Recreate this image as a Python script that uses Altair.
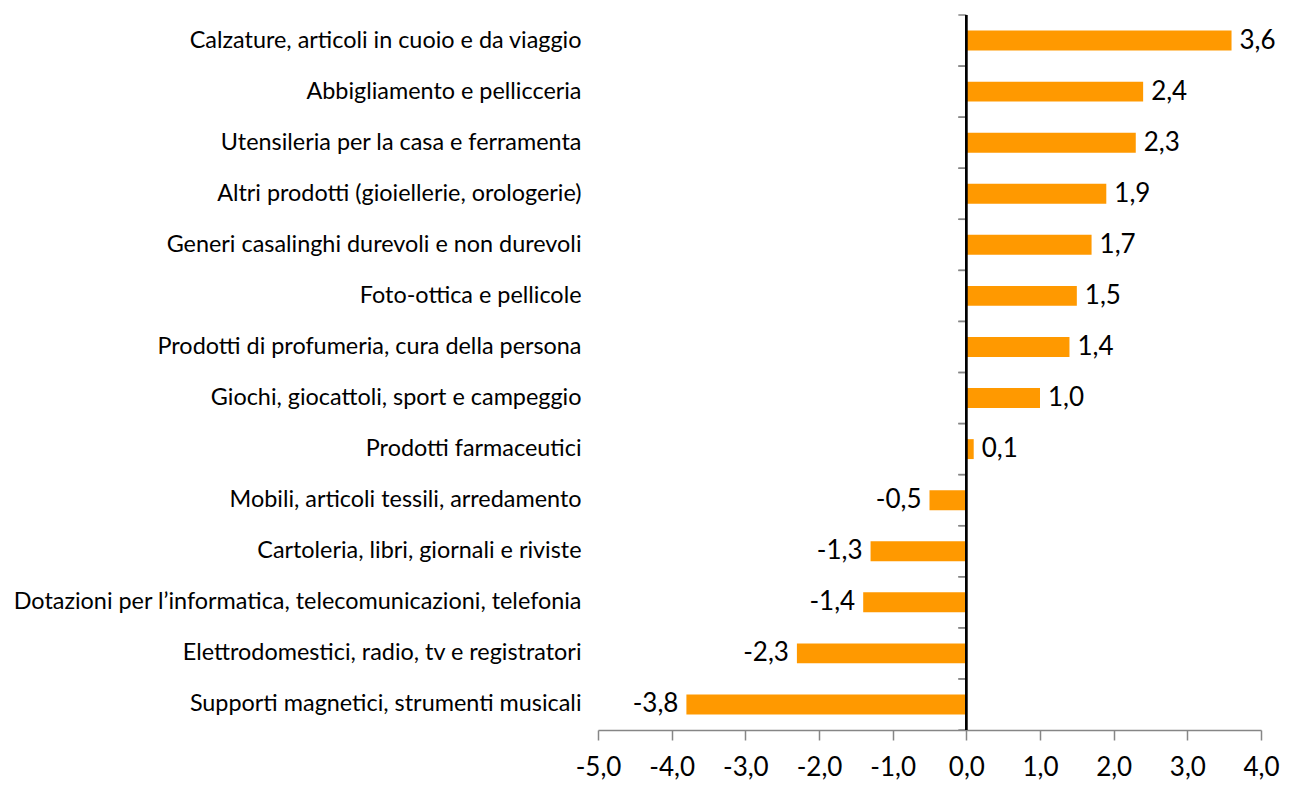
import altair as alt
import pandas as pd

categories = [
    "Calzature, articoli in cuoio e da viaggio",
    "Abbigliamento e pellicceria",
    "Utensileria per la casa e ferramenta",
    "Altri prodotti (gioiellerie, orologerie)",
    "Generi casalinghi durevoli e non durevoli",
    "Foto-ottica e pellicole",
    "Prodotti di profumeria, cura della persona",
    "Giochi, giocattoli, sport e campeggio",
    "Prodotti farmaceutici",
    "Mobili, articoli tessili, arredamento",
    "Cartoleria, libri, giornali e riviste",
    "Dotazioni per l\u2019informatica, telecomunicazioni, telefonia",
    "Elettrodomestici, radio, tv e registratori",
    "Supporti magnetici, strumenti musicali",
]
values = [3.6, 2.4, 2.3, 1.9, 1.7, 1.5, 1.4, 1.0, 0.1, -0.5, -1.3, -1.4, -2.3, -3.8]
x_ticks = [-5, -4, -3, -2, -1, 0, 1, 2, 3, 4]

df = pd.DataFrame({"cat": categories, "value": values})
df["label"] = [f"{v:.1f}".replace(".", ",") for v in values]

FONT = "Lato"

y_axis = alt.Axis(title=None, domain=False, ticks=False, labelPadding=17,
                  labelFontSize=23.4, labelFont=FONT, labelColor="black",
                  labelLimit=0)
y_scale = alt.Scale(paddingInner=0, paddingOuter=0)

def yenc(bp=None):
    if bp is None:
        return alt.Y("cat:N", sort=categories, scale=y_scale, axis=y_axis)
    return alt.Y("cat:N", sort=categories, scale=y_scale, axis=y_axis, bandPosition=bp)

x_enc = alt.X("value:Q", scale=alt.Scale(domain=[-5, 4], nice=False),
              axis=alt.Axis(values=x_ticks, labelExpr="datum.value + ',0'",
                            grid=False, domainColor="#868686", tickColor="#868686",
                            domainWidth=1.5, tickWidth=1.5, labelFlush=False,
                            labelOverlap=False,
                            tickSize=10, labelPadding=14, labelFontSize=26,
                            labelFont=FONT, labelColor="black", title=None))

base = alt.Chart(df)

bars = base.mark_bar(color="#FF9900", height={"band": 0.39}).encode(x=x_enc, y=yenc())

zero = base.mark_rule(color="black", strokeWidth=1.5).encode(x=alt.datum(0))

ticks_top = base.mark_rule(color="#868686", strokeWidth=1.5, xOffset=-8, x2Offset=0).encode(
    x=alt.datum(0), x2=alt.datum(0), y=yenc(0))
ticks_bot = base.mark_rule(color="#868686", strokeWidth=1.5, xOffset=-8, x2Offset=0).encode(
    x=alt.datum(0), x2=alt.datum(0), y=yenc(1))

pos_text = base.transform_filter("datum.value >= 0").mark_text(
    align="left", baseline="middle", dx=8, fontSize=26, font=FONT, color="black"
).encode(x="value:Q", y=yenc(), text="label:N")

neg_text = base.transform_filter("datum.value < 0").mark_text(
    align="right", baseline="middle", dx=-8, fontSize=26, font=FONT, color="black"
).encode(x="value:Q", y=yenc(), text="label:N")

chart = alt.layer(bars, ticks_top, ticks_bot, zero, pos_text, neg_text).properties(
    width=1272, height=772, background="white",
    padding={"left": 4, "top": 6, "right": 0, "bottom": 0},
    autosize=alt.AutoSizeParams(type="fit", contains="padding"),
).configure_view(strokeWidth=0, stroke="transparent")

chart.save("out.html", embed_options={"renderer": "svg", "actions": False})
